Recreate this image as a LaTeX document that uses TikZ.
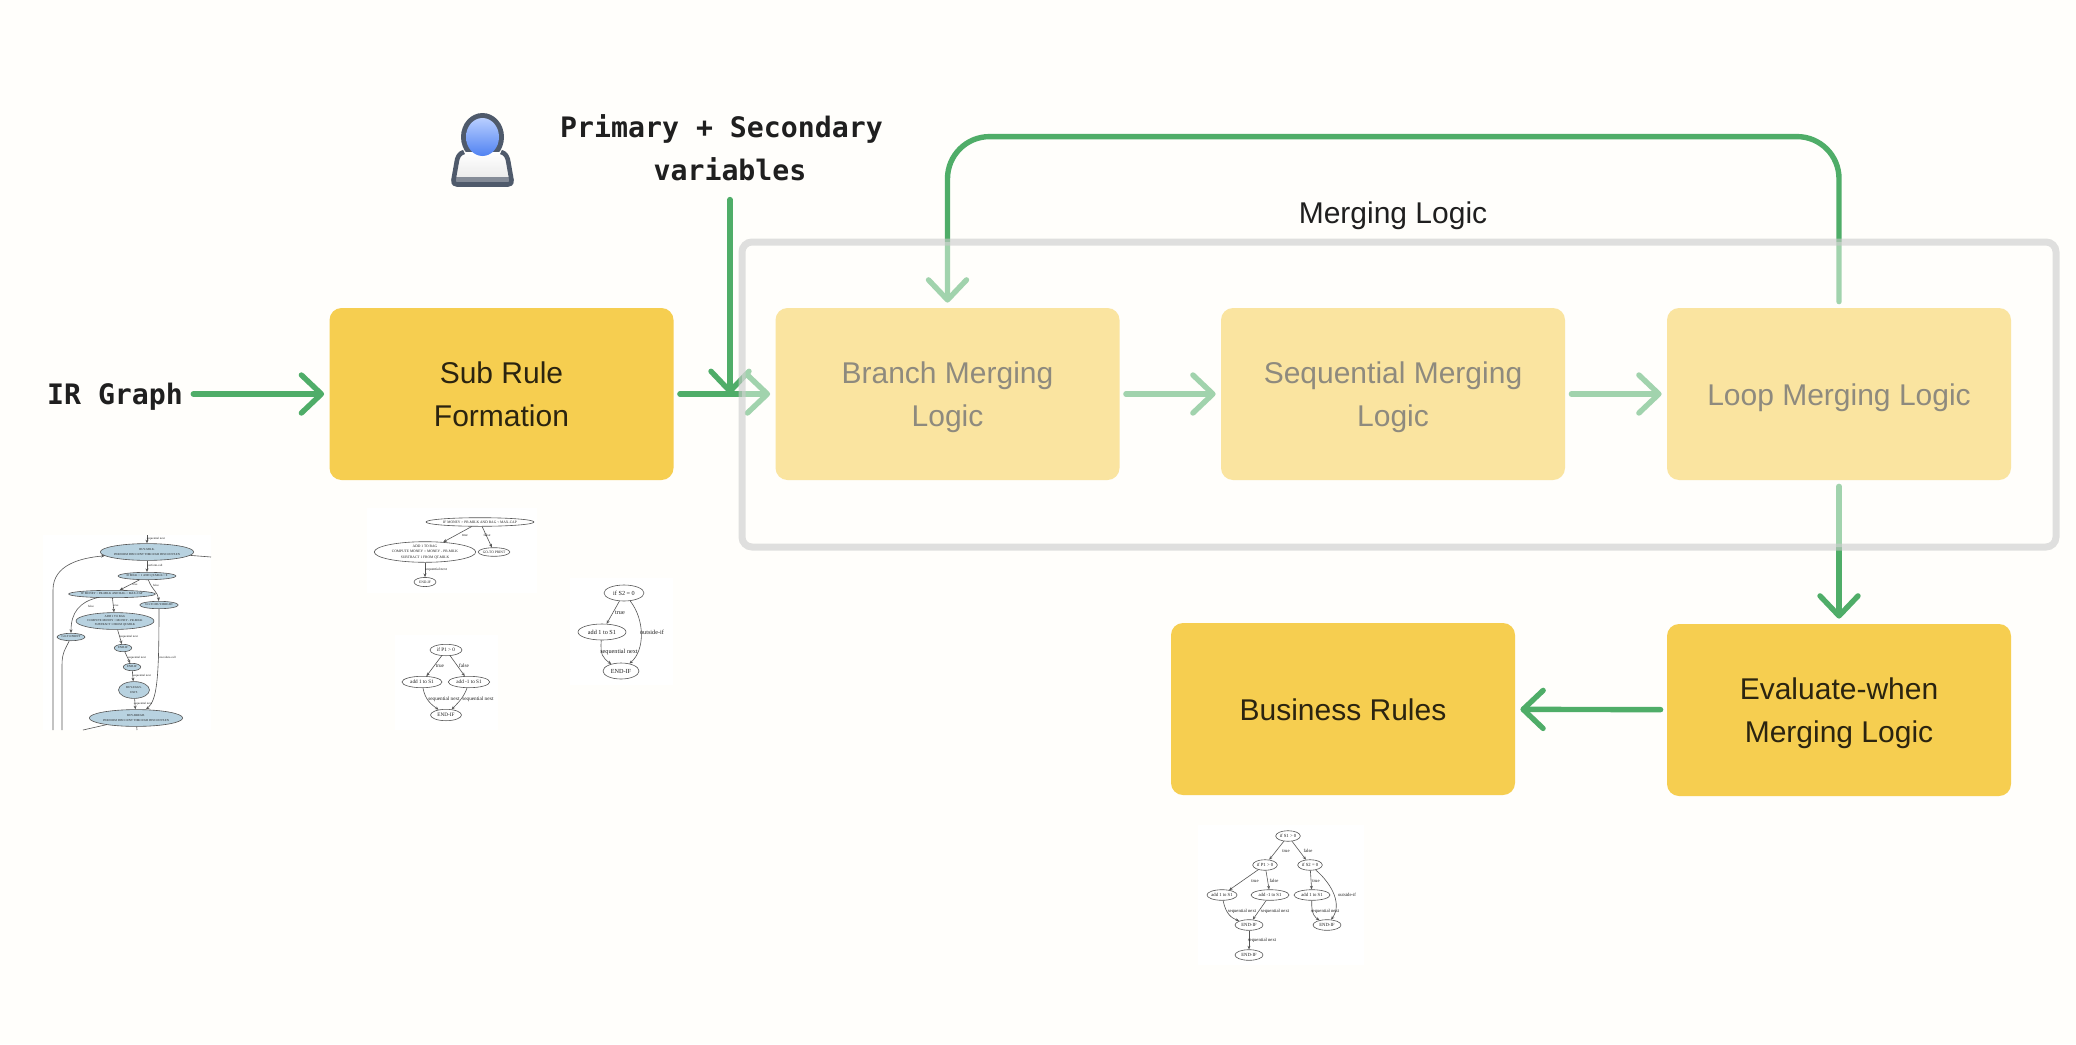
\documentclass[tikz,border=0pt]{standalone}
\usepackage{fontspec}
\setmainfont{Liberation Sans}
\newfontfamily\monofam{DejaVu Sans Mono}
\newfontfamily\graphfam{Liberation Serif}
\usetikzlibrary{shapes.geometric, arrows.meta}
\definecolor{pagecolor}{RGB}{255,254,251}
\definecolor{boxyellow}{RGB}{246,206,80}
\definecolor{flowgreen}{RGB}{79,173,104}
\definecolor{boxtext}{RGB}{43,36,16}
\definecolor{darktext}{RGB}{31,31,31}
\definecolor{framegray}{RGB}{203,203,203}
\definecolor{graphblue}{RGB}{184,210,224}
\definecolor{graphline}{RGB}{85,85,85}
\definecolor{iconslate}{RGB}{79,90,107}
\definecolor{headtop}{RGB}{184,206,255}
\definecolor{headbottom}{RGB}{80,130,242}
\newcommand{\toplift}{\rule{0pt}{15pt}}
\tikzstyle{rulebox} = [rectangle, rounded corners=6pt, minimum width=172pt, minimum height=86pt, align=center, fill=boxyellow, text=boxtext, font=\fontsize{15}{21.5}\selectfont, execute at begin node={\rule{0pt}{15pt}}, execute at end node={\rule[-4pt]{0pt}{4pt}}]
\tikzstyle{arrow} = [line width=2.7pt, line cap=round, -{Straight Barb[length=10pt,width=19pt,round]}, color=flowgreen, shorten >=2.5pt, shorten <=3pt]
\tikzstyle{monolabel} = [inner sep=0pt, align=center, text=darktext, font=\monofam\bfseries\fontsize{14.1}{21.5}\selectfont]
\tikzstyle{gnode} = [ellipse, draw=graphline, line width=.3pt, inner sep=0pt, align=center, text=darktext]
\tikzstyle{gfilled} = [gnode, fill=graphblue]
\tikzstyle{gedge} = [line width=.3pt, color=graphline, -{Stealth[length=1.8pt,width=1.5pt]}]
\tikzstyle{gplain} = [line width=.3pt, color=graphline]
\tikzstyle{glabel} = [inner sep=0pt, text=darktext]

\begin{document}
\begin{tikzpicture}[x=0.5pt, y=-0.5pt]

% Page
\fill[pagecolor] (0,0) rectangle (2076,1044);
\useasboundingbox (0,0) rectangle (2076,1044);

% Labels
\node[monolabel] (ir_graph) at (115,397) {IR Graph};
\node[monolabel] (var_label) at (730,148) {Primary + Secondary\phantom{x}\\variables};
\node[inner sep=0pt, text=darktext, font=\fontsize{15}{21.5}\selectfont] (merge_title) at (1393,216) {Merging Logic};

% User icon
\fill[iconslate] (482.5,137) ellipse [x radius=21.5, y radius=24];
\fill[top color=white, bottom color=black!10] (464,152) .. controls (459,153) and (457,158) .. (456.5,163) -- (453.5,180) .. controls (453,183) and (454,184.5) .. (457,184.5) -- (508,184.5) .. controls (511,184.5) and (512,183) .. (511.5,180) -- (508.5,163) .. controls (508,158) and (506,153) .. (501,152) -- cycle;
\fill[iconslate!70] (454,177) rectangle (511,183);
\draw[iconslate, line width=2.3pt, line join=round] (464,152) .. controls (459,153) and (457,158) .. (456.5,163) -- (453.5,180) .. controls (453,183) and (454,184.5) .. (457,184.5) -- (508,184.5) .. controls (511,184.5) and (512,183) .. (511.5,180) -- (508.5,163) .. controls (508,158) and (506,153) .. (501,152);
\shade[top color=headtop, bottom color=headbottom] (482.5,137) ellipse [x radius=16.5, y radius=19];

% Main boxes
\node[rulebox] (sub_rule) at (501.5,394) {\toplift Sub Rule\\Formation};
\node[rulebox] (branch) at (947.5,394) {\toplift Branch Merging\\Logic};
\node[rulebox] (sequential) at (1393,394) {\toplift Sequential Merging\\Logic};
\node[rulebox] (loop_logic) at (1839,394) {Loop Merging Logic};
\node[rulebox] (evaluate) at (1839,710) {\toplift Evaluate-when\\Merging Logic};
\node[rulebox] (business) at (1343,709) {Business Rules};

% Connectors
\coordinate (var_end) at (730,394);
\draw[arrow, shorten <=5pt] (ir_graph.east |- sub_rule.west) -- (sub_rule);
\draw[arrow] (sub_rule) -- (branch);
\draw[arrow, shorten >=0pt, shorten <=9pt] (var_label) -- (var_end);
\draw[arrow] (branch) -- (sequential);
\draw[arrow] (sequential) -- (loop_logic);
\draw[arrow, rounded corners=21pt] (loop_logic.north) -- ++(0,-171) -| (branch.north);
\draw[arrow] (loop_logic) -- (evaluate);
\draw[arrow] (evaluate) -- (business);

% Merging frame fades what it covers
\node[rectangle, rounded corners=5pt, minimum width=657pt, minimum height=152.5pt, draw=framegray, line width=3.5pt, fill=pagecolor, fill opacity=.47, draw opacity=.6] (merge_frame) at (1399,394.5) {};

% Thumbnail: whole program
\fill[white] (43,535) rectangle (211,730);
\begin{scope}[every node/.append style={font=\graphfam\fontsize{1.5}{1.9}\selectfont}]
\node[gfilled, minimum width=46pt, minimum height=8.4pt] (e1) at (147,552) {BUY-MILK.\\[.8pt]PERFORM DISCOUNT THROUGH DISCOUNT-EN};
\node[gfilled, minimum width=28pt, minimum height=3.7pt] (e2) at (147,576) {IF MILK > 1 AND QT-MILK > 0};
\node[gfilled, minimum width=41pt, minimum height=3.7pt] (e3) at (112,594) {IF MONEY > PR-MILK AND BAG < MAX-CAP};
\node[gfilled, minimum width=18pt, minimum height=3.7pt] (e4) at (159,605) {GO-TO BUY-BREAD};
\node[gfilled, minimum width=39pt, minimum height=8.4pt] (e5) at (115,621) {ADD 1 TO BAG\\COMPUTE MONEY = MONEY - PR-MILK\\SUBTRACT 1 FROM QT-MILK};
\node[gfilled, minimum width=14pt, minimum height=3.7pt] (e6) at (71,637) {GO-TO PRINT};
\node[gfilled, minimum width=8.7pt, minimum height=3.7pt] (e7) at (123,648) {END-IF};
\node[gfilled, minimum width=8.7pt, minimum height=3.7pt] (e8) at (132,667) {END-IF};
\node[gfilled, minimum width=15.5pt, minimum height=8.4pt] (e9) at (134,690) {BUY-EGGS.\\[.8pt]EXIT.};
\node[gfilled, minimum width=46pt, minimum height=8.4pt] (e10) at (136,718) {BUY-BREAD.\\[.8pt]PERFORM DISCOUNT THROUGH DISCOUNT-EN};
\coordinate (e_in) at (147,535);
\coordinate (e_back) at (53,730);
\coordinate (e_print) at (62,730);
\coordinate (e_right) at (211,557);
\coordinate (e_left) at (83,730);
\coordinate (e_down) at (137,730);
\draw[gedge] (e_in) -- (e1);
\draw[gedge] (e1) -- (e2);
\draw[gedge] (e2) -- (e3);
\draw[gedge] (e2) .. controls (152,590) and (158,592) .. (e4);
\draw[gedge] (e3) -- (e5);
\draw[gedge] (e3) .. controls (80,602) and (71,612) .. (e6);
\draw[gedge] (e5) -- (e7);
\draw[gedge] (e7) -- (e8);
\draw[gedge] (e8) -- (e9);
\draw[gedge] (e9) -- (e10);
\draw[gedge] (e4) .. controls (159,680) and (157,700) .. (e10);
\draw[gedge] (e_back) -- (53,590) .. controls (53,565) and (80,558) .. (e1);
\draw[gplain] (e6) .. controls (66,648) and (62,652) .. (62,665) -- (e_print);
\draw[gplain] (e1) -- (e_right);
\draw[gplain] (e10) -- (e_left);
\draw[gplain] (e10) -- (e_down);
\node[glabel] (e_l1) at (156,539) {sequential next};
\node[glabel] (e_l2) at (155,566) {perform-call};
\node[glabel] (e_l3) at (135,585) {true};
\node[glabel] (e_l4) at (156,585) {false};
\node[glabel] (e_l5) at (116,606) {true};
\node[glabel] (e_l6) at (91,606) {false};
\node[glabel] (e_l7) at (129,637) {sequential next};
\node[glabel] (e_l8) at (137,658) {sequential next};
\node[glabel] (e_l9) at (142,676) {sequential next};
\node[glabel] (e_l10) at (143,704) {sequential next};
\node[glabel] (e_l11) at (167,658) {procedure-call};
\end{scope}

% Thumbnail: sub rule of the milk branch
\fill[white] (367,508) rectangle (537,593);
\begin{scope}[every node/.append style={font=\graphfam\fontsize{1.8}{2.9}\selectfont}]
\node[gnode, minimum width=54pt, minimum height=4.3pt] (a1) at (480,522) {IF MONEY > PR-MILK AND BAG < MAX-CAP};
\node[gnode, minimum width=50.7pt, minimum height=10pt] (a2) at (425,552) {ADD 1 TO BAG\\COMPUTE MONEY = MONEY - PR-MILK\\SUBTRACT 1 FROM QT-MILK};
\node[gnode, minimum width=14.7pt, minimum height=4.3pt] (a3) at (494,552) {GO-TO PRINT};
\node[gnode, minimum width=11pt, minimum height=4.6pt] (a4) at (425,582) {END-IF};
\draw[gedge] (a1) -- (a2);
\draw[gedge] (a1) -- (a3);
\draw[gedge] (a2) -- (a4);
\node[glabel] (a_l1) at (465,535) {true};
\node[glabel] (a_l2) at (487,535) {false};
\node[glabel] (a_l3) at (436,570) {sequential next};
\end{scope}

% Thumbnail: if P1
\fill[white] (395,635) rectangle (498,730);
\begin{scope}[every node/.append style={font=\graphfam\fontsize{2.6}{3.1}\selectfont}]
\node[gnode, minimum width=16pt, minimum height=5.7pt] (b1) at (446,650) {if P1 > 0};
\node[gnode, minimum width=20pt, minimum height=5.7pt] (b2) at (422,682) {add 1 to S1};
\node[gnode, minimum width=20.7pt, minimum height=5.7pt] (b3) at (469,682) {add -1 to S1};
\node[gnode, minimum width=15.5pt, minimum height=5.7pt] (b4) at (446,715) {END-IF};
\draw[gedge] (b1) -- (b2);
\draw[gedge] (b1) -- (b3);
\draw[gedge] (b2) .. controls (425,700) and (432,705) .. (b4);
\draw[gedge] (b3) .. controls (464,697) and (458,703) .. (b4);
\node[glabel] (b_l1) at (440,666) {true};
\node[glabel] (b_l2) at (464,666) {false};
\node[glabel] (b_l3) at (444,699) {sequential next};
\node[glabel] (b_l4) at (478,699) {sequential next};
\end{scope}

% Thumbnail: if S2
\fill[white] (570,578) rectangle (673,685);
\begin{scope}[every node/.append style={font=\graphfam\fontsize{3.1}{3.7}\selectfont}]
\node[gnode, minimum width=20pt, minimum height=8pt] (c1) at (624,593) {if S2 = 0};
\node[gnode, minimum width=24pt, minimum height=8pt] (c2) at (602,632) {add 1 to S1};
\node[gnode, minimum width=18pt, minimum height=8pt] (c3) at (621,671) {END-IF};
\draw[gedge] (c1) -- (c2);
\draw[gedge] (c2) .. controls (600,655) and (603,658) .. (c3);
\draw[gedge] (c1) .. controls (645,620) and (645,650) .. (c3);
\node[glabel] (c_l1) at (620,613) {true};
\node[glabel] (c_l2) at (652,632) {outside-if};
\node[glabel] (c_l3) at (619,652) {sequential next};
\end{scope}

% Thumbnail: business rule
\fill[white] (1198,825) rectangle (1364,965);
\begin{scope}[every node/.append style={font=\graphfam\fontsize{2.35}{2.8}\selectfont}]
\node[gnode, minimum width=12.3pt, minimum height=5.3pt] (d1) at (1288,836) {if S1 > 0};
\node[gnode, minimum width=12.3pt, minimum height=5.3pt] (d2) at (1265,865) {if P1 > 0};
\node[gnode, minimum width=12.3pt, minimum height=5.3pt] (d3) at (1310,865) {if S2 = 0};
\node[gnode, minimum width=15pt, minimum height=5.3pt] (d4) at (1222,895) {add 1 to S1};
\node[gnode, minimum width=19pt, minimum height=5.3pt] (d5) at (1270,895) {add -1 to S1};
\node[gnode, minimum width=18pt, minimum height=5.3pt] (d6) at (1312,895) {add 1 to S1};
\node[gnode, minimum width=14pt, minimum height=5.3pt] (d7) at (1249,925) {END-IF};
\node[gnode, minimum width=14pt, minimum height=5.3pt] (d8) at (1327,925) {END-IF};
\node[gnode, minimum width=14pt, minimum height=5.3pt] (d9) at (1249,955) {END-IF};
\draw[gedge] (d1) -- (d2);
\draw[gedge] (d1) -- (d3);
\draw[gedge] (d2) -- (d4);
\draw[gedge] (d2) -- (d5);
\draw[gedge] (d3) -- (d6);
\draw[gedge] (d4) .. controls (1226,915) and (1232,918) .. (d7);
\draw[gedge] (d5) -- (d7);
\draw[gedge] (d6) .. controls (1311,915) and (1316,918) .. (d8);
\draw[gedge] (d3) .. controls (1333,885) and (1342,905) .. (d8);
\draw[gedge] (d7) -- (d9);
\node[glabel] (d_l1) at (1286,851) {true};
\node[glabel] (d_l2) at (1308,851) {false};
\node[glabel] (d_l3) at (1255,881) {true};
\node[glabel] (d_l4) at (1274,881) {false};
\node[glabel] (d_l5) at (1316,881) {true};
\node[glabel] (d_l6) at (1347,895) {outside-if};
\node[glabel] (d_l7) at (1242,911) {sequential next};
\node[glabel] (d_l8) at (1275,911) {sequential next};
\node[glabel] (d_l9) at (1325,911) {sequential next};
\node[glabel] (d_l10) at (1262,940) {sequential next};
\end{scope}

\end{tikzpicture}
\end{document}
